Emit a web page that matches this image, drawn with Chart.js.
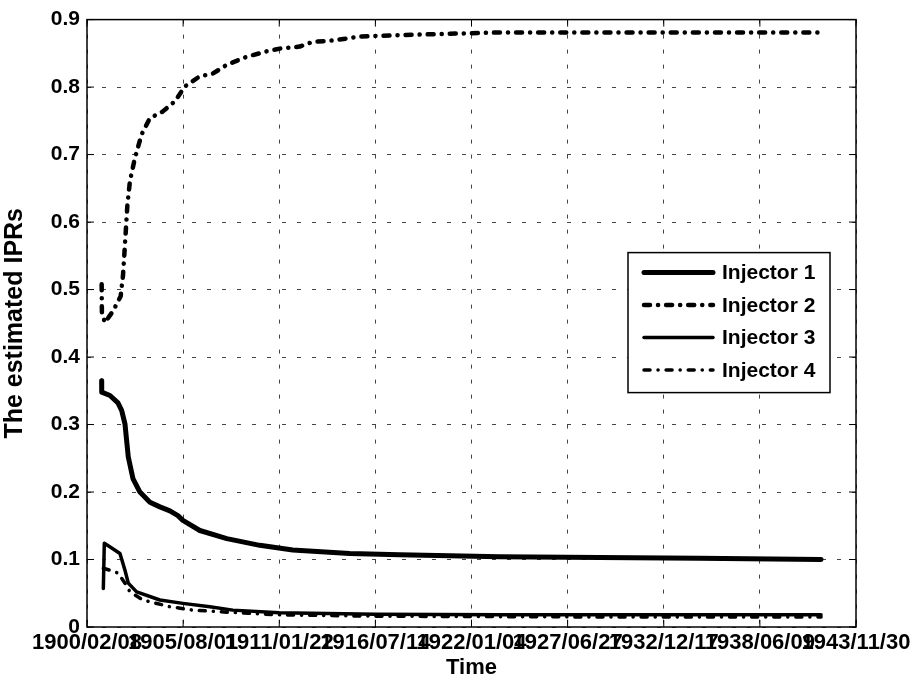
<!DOCTYPE html>
<html>
<head>
<meta charset="utf-8">
<title>The estimated IPRs</title>
<script src="https://cdn.jsdelivr.net/npm/chart.js@4/dist/chart.umd.min.js"></script>
<style>
    html, body { margin: 0; padding: 0; background: #fff; }
    #wrap { width: 918px; height: 687px; }
</style>
</head>
<body>
<div id="wrap"><canvas id="ipr" width="918" height="687"></canvas></div>
<script>
// x axis in days from the first tick (ticks every 2000 days)
var tickDays = [0, 2000, 4000, 6000, 8000, 10000, 12000, 14000, 16000];
var tickLabels = ['1900/02/08', '1905/08/01', '1911/01/22', '1916/07/14', '1922/01/04',
    '1927/06/27', '1932/12/17', '1938/06/09', '1943/11/30'];
var yTickLabels = ['0', '0.1', '0.2', '0.3', '0.4', '0.5', '0.6', '0.7', '0.8', '0.9'];

var inj1Days = [305, 306, 478, 644, 721, 790, 825, 859, 956, 1101, 1309, 1517, 1725, 1891, 1995,
    2348, 2909, 3595, 4281, 5465, 6504, 8582, 10660, 12738, 15273];
var inj1Values = [0.365, 0.348, 0.343, 0.332, 0.321, 0.301, 0.276, 0.252, 0.220, 0.200, 0.185, 0.178,
    0.172, 0.165, 0.158, 0.143, 0.131, 0.121, 0.114, 0.109, 0.107, 0.104, 0.103, 0.102, 0.100];

var inj2Days = [305, 310, 374, 540, 700, 748, 775, 810, 840, 894, 997, 1137, 1309, 1579, 1829, 2036,
    2348, 2618, 2909, 3325, 3740, 4010, 4426, 4696, 5112, 5403, 5673, 6504, 7543, 8582, 10660, 12738, 15273];
var inj2Values = [0.508, 0.465, 0.451, 0.468, 0.490, 0.520, 0.550, 0.590, 0.625, 0.661, 0.695, 0.730,
    0.754, 0.764, 0.779, 0.801, 0.816, 0.820, 0.833, 0.845, 0.853, 0.857, 0.860, 0.867, 0.869, 0.872,
    0.875, 0.877, 0.879, 0.881, 0.881, 0.881, 0.881];

var inj3Days = [340, 360, 450, 686, 790, 859, 1033, 1517, 1995, 2556, 3034, 4000, 6000, 8582, 12000, 15273];
var inj3Values = [0.057, 0.124, 0.120, 0.109, 0.084, 0.065, 0.052, 0.040, 0.035, 0.030, 0.025, 0.021,
    0.019, 0.018, 0.018, 0.018];

var inj4Days = [340, 478, 644, 790, 894, 1164, 1725, 2203, 2909, 4000, 6000, 10000, 15273];
var inj4Values = [0.087, 0.084, 0.080, 0.065, 0.052, 0.040, 0.030, 0.025, 0.022, 0.018, 0.016, 0.015, 0.015];

var seriesNames = ['Injector 1', 'Injector 2', 'Injector 3', 'Injector 4'];

var FONT = "'Liberation Sans', Arial, Helvetica, sans-serif";
var DASH_DOT = [6, 8, 0.1, 8];

function toPoints(days, values) {
    var pts = [];
    for (var i = 0; i < days.length; i++) {
        pts.push({ x: days[i], y: values[i] });
    }
    return pts;
}

// box round the axes, inward tick marks and the legend, MATLAB style
var framePlugin = {
    id: 'frame',
    afterDatasetsDraw: function (chart) {
        var ctx = chart.ctx;
        var a = chart.chartArea;
        var xs = chart.scales.x;
        var ys = chart.scales.y;
        var tick = 7;

        ctx.save();
        ctx.strokeStyle = '#000';
        ctx.lineWidth = 1.5;
        ctx.setLineDash([]);
        ctx.strokeRect(a.left, a.top, a.right - a.left, a.bottom - a.top);

        ctx.lineWidth = 1;
        ctx.beginPath();
        tickDays.forEach(function (d) {
            var px = xs.getPixelForValue(d);
            ctx.moveTo(px, a.bottom); ctx.lineTo(px, a.bottom - tick);
            ctx.moveTo(px, a.top); ctx.lineTo(px, a.top + tick);
        });
        yTickLabels.forEach(function (lbl) {
            var py = ys.getPixelForValue(parseFloat(lbl));
            ctx.moveTo(a.left, py); ctx.lineTo(a.left + tick, py);
            ctx.moveTo(a.right, py); ctx.lineTo(a.right - tick, py);
        });
        ctx.stroke();

        // legend
        var boxW = 202, boxH = 140;
        var bx = a.right - 26 - boxW;
        var by = a.top + 233;
        ctx.fillStyle = '#fff';
        ctx.fillRect(bx, by, boxW, boxH);
        ctx.lineWidth = 1.5;
        ctx.strokeRect(bx, by, boxW, boxH);

        ctx.font = 'bold 21px ' + FONT;
        ctx.textBaseline = 'middle';
        ctx.textAlign = 'left';
        chart.data.datasets.forEach(function (ds, i) {
            var rowY = by + 20 + i * 32.5;
            ctx.beginPath();
            ctx.lineWidth = ds.borderWidth;
            ctx.lineCap = 'round';
            ctx.setLineDash(ds.borderDash || []);
            ctx.moveTo(bx + 16, rowY);
            ctx.lineTo(bx + 85, rowY);
            ctx.stroke();
            ctx.setLineDash([]);
            ctx.fillStyle = '#000';
            ctx.fillText(ds.label, bx + 94, rowY + 1);
        });
        ctx.restore();
    }
};

Chart.defaults.font.family = FONT;
Chart.defaults.font.weight = 'bold';
Chart.defaults.color = '#000';

new Chart(document.getElementById('ipr').getContext('2d'), {
    type: 'line',
    data: {
        datasets: [
            { label: seriesNames[0], data: toPoints(inj1Days, inj1Values), borderWidth: 5, borderDash: [] },
            { label: seriesNames[1], data: toPoints(inj2Days, inj2Values), borderWidth: 4.5, borderDash: DASH_DOT },
            { label: seriesNames[2], data: toPoints(inj3Days, inj3Values), borderWidth: 3.5, borderDash: [] },
            { label: seriesNames[3], data: toPoints(inj4Days, inj4Values), borderWidth: 3.5, borderDash: DASH_DOT }
        ].map(function (ds) {
            ds.borderColor = '#000';
            ds.backgroundColor = '#000';
            ds.pointRadius = 0;
            ds.tension = 0;
            ds.fill = false;
            ds.borderCapStyle = 'round';
            ds.borderJoinStyle = 'round';
            return ds;
        })
    },
    options: {
        responsive: false,
        animation: false,
        layout: { padding: { left: 0, right: 62, top: 18, bottom: 0 } },
        plugins: {
            legend: { display: false },
            tooltip: { enabled: false }
        },
        scales: {
            x: {
                type: 'linear',
                min: tickDays[0],
                max: tickDays[tickDays.length - 1],
                afterFit: function (s) { s.height = 60; },
                afterBuildTicks: function (s) {
                    s.ticks = tickDays.map(function (d) { return { value: d }; });
                },
                grid: {
                    color: '#444',
                    lineWidth: 1,
                    drawTicks: false
                },
                border: { display: false, dash: [4, 11] },
                ticks: {
                    autoSkip: false,
                    maxRotation: 0,
                    minRotation: 0,
                    padding: 3,
                    font: { size: 22, weight: 'bold' },
                    callback: function (v, i) { return tickLabels[i]; }
                },
                title: {
                    display: true,
                    text: 'Time',
                    font: { size: 22, weight: 'bold' },
                    padding: { top: 0, bottom: 6 }
                }
            },
            y: {
                min: 0,
                max: 0.9,
                afterFit: function (s) { s.width = 87; },
                afterBuildTicks: function (s) {
                    s.ticks = yTickLabels.map(function (l) { return { value: parseFloat(l) }; });
                },
                grid: {
                    color: '#444',
                    lineWidth: 1,
                    drawTicks: false
                },
                border: { display: false, dash: [4, 11] },
                ticks: {
                    padding: 7,
                    font: { size: 21, weight: 'bold' },
                    callback: function (v, i) { return yTickLabels[i]; }
                },
                title: {
                    display: true,
                    text: 'The estimated IPRs',
                    font: { size: 25, weight: 'bold' },
                    padding: { top: 0, bottom: 2 }
                }
            }
        }
    },
    plugins: [framePlugin]
});
</script>
</body>
</html>
